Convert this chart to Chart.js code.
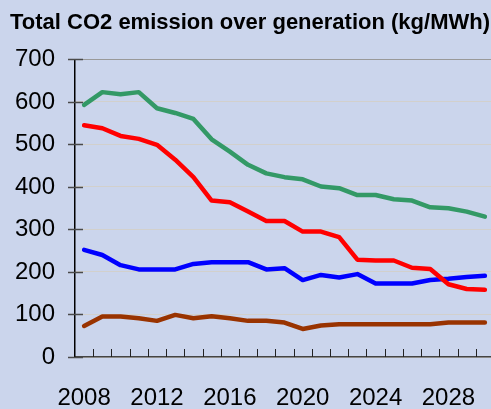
<!DOCTYPE html>
<html lang="en">
<head>
    <meta charset="UTF-8">
    <title>Total CO2 emission over generation</title>
    <script src="https://cdn.jsdelivr.net/npm/chart.js@4.4.0/dist/chart.umd.min.js"></script>
    <style>
        html, body { margin: 0; padding: 0; overflow: hidden; background: #cbd5ec; }
        #wrap { width: 494px; height: 409px; position: relative; }
    </style>
</head>
<body>
    <div id="wrap"><canvas id="co2Chart"></canvas></div>

    <script>
        // Chart data (kg/MWh)
        const years = ['2008', '2009', '2010', '2011', '2012', '2013', '2014', '2015', '2016', '2017', '2018', '2019',
                       '2020', '2021', '2022', '2023', '2024', '2025', '2026', '2027', '2028', '2029', '2030'];
        const greenSeries = [593, 623, 618, 623, 585, 574, 560, 512, 483, 452, 432, 423, 418, 401, 397, 381, 381, 371, 368, 352, 350, 342, 330];
        const redSeries = [545, 538, 520, 513, 499, 464, 423, 368, 364, 342, 320, 320, 295, 295, 282, 229, 227, 227, 210, 207, 171, 160, 158];
        const blueSeries = [252, 240, 216, 206, 206, 206, 219, 223, 223, 223, 206, 209, 181, 193, 187, 195, 173, 173, 173, 181, 184, 188, 191];
        const brownSeries = [73, 95, 95, 91, 85, 99, 91, 96, 91, 85, 85, 81, 66, 74, 77, 77, 77, 77, 77, 77, 81, 81, 81];
        const shownYears = ['2008', '2012', '2016', '2020', '2024', '2028'];

        // tick marks drawn inside the plot, like the original
        const tickMarks = {
            id: 'tickMarks',
            afterDraw(chart) {
                const ctx = chart.ctx;
                const x = chart.scales.x;
                const y = chart.scales.y;
                ctx.save();
                ctx.lineWidth = 1.5;
                ctx.strokeStyle = '#4a4a4a';
                y.ticks.forEach(t => {
                    const py = Math.round(y.getPixelForValue(t.value)) + 0.5;
                    ctx.beginPath();
                    ctx.moveTo(x.left - 7, py);
                    ctx.lineTo(x.left + 8, py);
                    ctx.stroke();
                });
                const half = (x.getPixelForValue(1) - x.getPixelForValue(0)) / 2;
                ctx.strokeStyle = '#222';
                ctx.lineWidth = 1;
                for (let i = 1; i <= years.length; i++) {
                    const px = Math.round(x.getPixelForValue(i) - half) + 0.5;
                    ctx.beginPath();
                    ctx.moveTo(px, y.bottom);
                    ctx.lineTo(px, y.bottom - 8);
                    ctx.stroke();
                }
                ctx.restore();
            }
        };

        const lineStyle = { borderWidth: 4.5, pointRadius: 0, tension: 0, borderCapStyle: 'round', borderJoinStyle: 'round' };

        new Chart(document.getElementById('co2Chart'), {
            type: 'line',
            data: {
                labels: years,
                datasets: [
                    { label: 'Series 2', data: redSeries, borderColor: '#ff0000', ...lineStyle },
                    { label: 'Series 1', data: greenSeries, borderColor: '#339966', ...lineStyle },
                    { label: 'Series 3', data: blueSeries, borderColor: '#0000ff', ...lineStyle },
                    { label: 'Series 4', data: brownSeries, borderColor: '#993300', ...lineStyle }
                ]
            },
            options: {
                responsive: true,
                maintainAspectRatio: false,
                animation: false,
                layout: { padding: { left: 10, right: 0, top: 6, bottom: 0 } },
                plugins: {
                    legend: { display: false },
                    tooltip: { enabled: false },
                    title: {
                        display: true,
                        text: 'Total CO2 emission over generation (kg/MWh)',
                        align: 'start',
                        color: '#000',
                        font: { family: 'Liberation Sans', size: 22, weight: 'bold' },
                        padding: { top: 4, bottom: 23 }
                    }
                },
                scales: {
                    x: {
                        offset: true,
                        afterFit: s => { s.height = 52; s.paddingLeft = 0; s.paddingRight = 0; },
                        grid: { display: false, drawTicks: false },
                        border: { display: true, color: '#444', width: 1.5 },
                        ticks: {
                            autoSkip: false,
                            maxRotation: 0,
                            padding: 27,
                            color: '#000',
                            font: { family: 'Liberation Sans', size: 24 },
                            callback: function (v) {
                                const lab = this.getLabelForValue(v);
                                return shownYears.includes(lab) ? lab : '';
                            }
                        }
                    },
                    y: {
                        min: 0,
                        max: 700,
                        afterFit: s => { s.width = 65; },
                        grid: {
                            drawTicks: false,
                            color: ctx => ctx.tick && ctx.tick.value === 700 ? '#999999' : '#d2d0cc',
                            lineWidth: 1
                        },
                        border: { display: true, color: '#000', width: 1.5 },
                        ticks: {
                            stepSize: 100,
                            padding: 20,
                            color: '#000',
                            font: { family: 'Liberation Sans', size: 24 }
                        }
                    }
                }
            },
            plugins: [tickMarks]
        });
    </script>
</body>
</html>
